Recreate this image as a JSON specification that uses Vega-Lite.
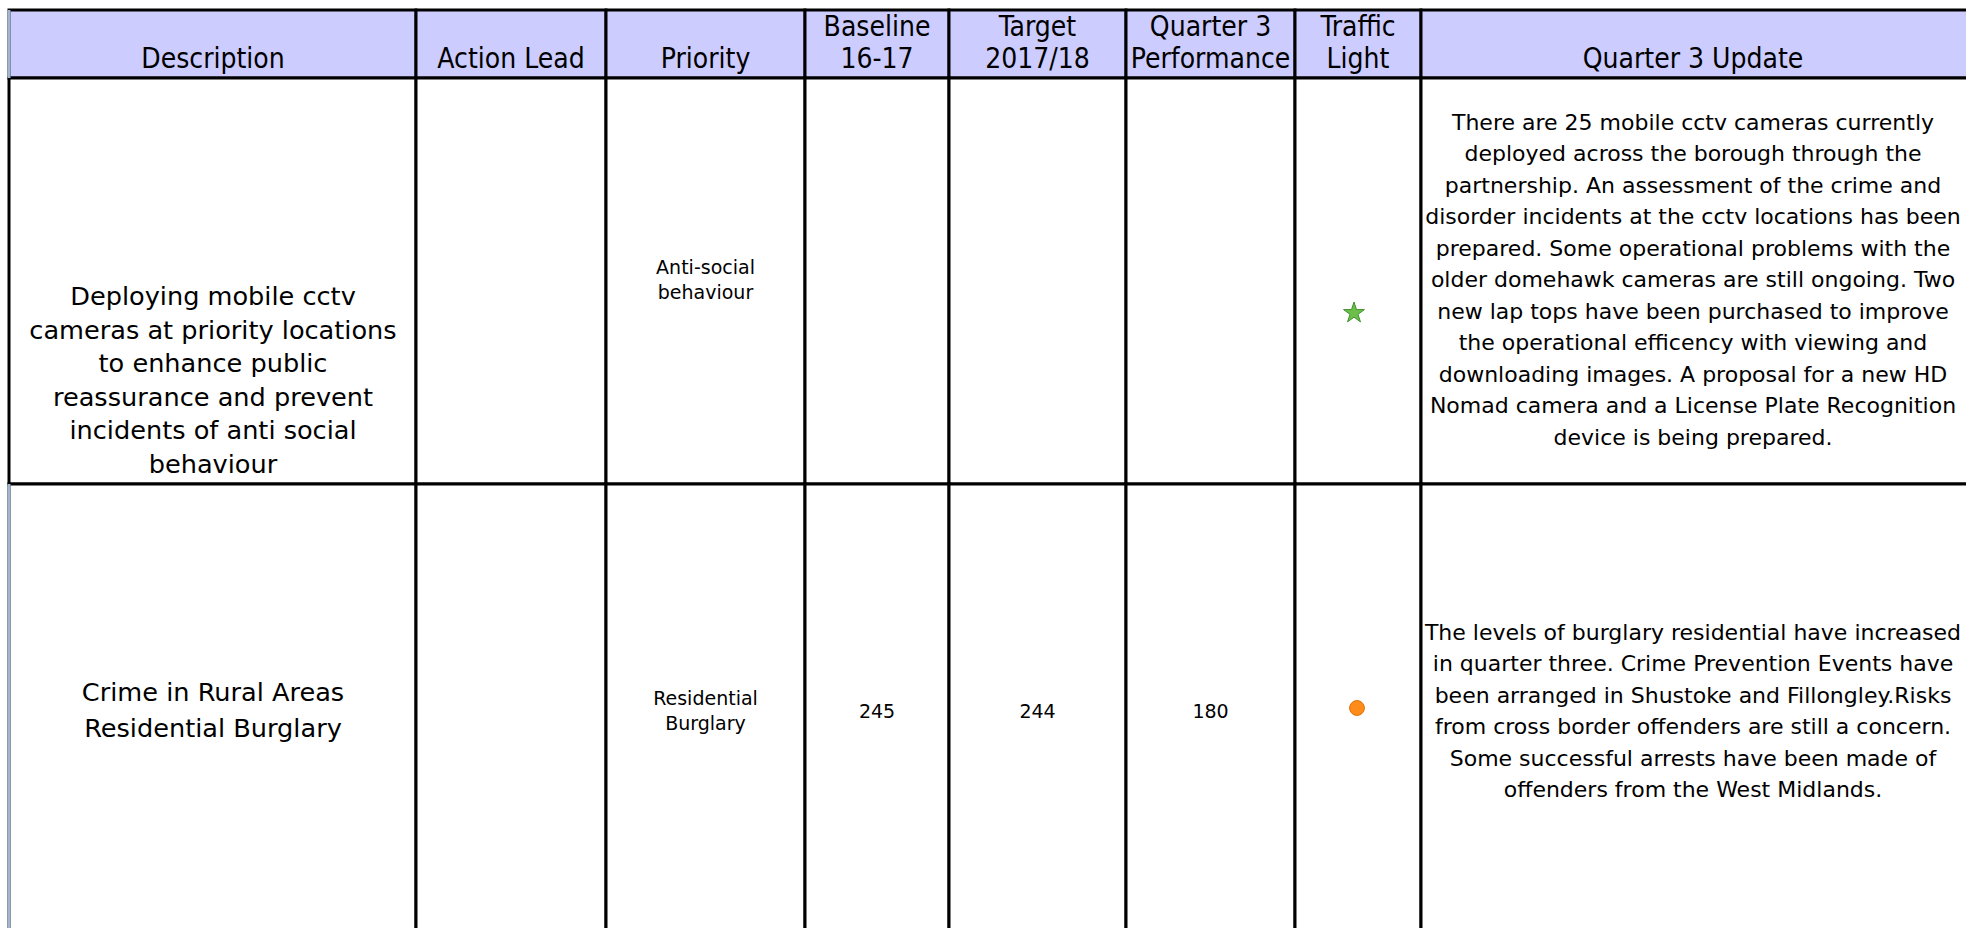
{
  "$schema": "https://vega.github.io/schema/vega-lite/v6.json",
  "width": 1966,
  "height": 928,
  "autosize": {"type": "fit", "contains": "padding"},
  "padding": 0,
  "background": "white",
  "config": {"view": {"stroke": null}},
  "datasets": {
    "columns": [
      {"col": "Description", "left": 9, "right": 416, "center": 213},
      {"col": "Action Lead", "left": 416, "right": 606, "center": 511},
      {"col": "Priority", "left": 606, "right": 805, "center": 705.5},
      {"col": "Baseline", "left": 805, "right": 949, "center": 877},
      {"col": "Target", "left": 949, "right": 1126, "center": 1037.5},
      {"col": "Performance", "left": 1126, "right": 1295, "center": 1210.5},
      {"col": "Traffic Light", "left": 1295, "right": 1421, "center": 1358},
      {"col": "Update", "left": 1421, "right": 1980, "center": 1693}
    ],
    "bands": [
      {"band": "header", "top": 10, "bottom": 78, "middle": 44},
      {"band": "cctv", "top": 78, "bottom": 484, "middle": 281},
      {"band": "burglary", "top": 484, "bottom": 940, "middle": 712}
    ]
  },
  "data": {
    "values": [
      {"band": "header", "col": "Description", "text": "Description"},
      {"band": "header", "col": "Action Lead", "text": "Action Lead"},
      {"band": "header", "col": "Priority", "text": "Priority"},
      {"band": "header", "col": "Baseline", "text": "Baseline\n16-17"},
      {"band": "header", "col": "Target", "text": "Target\n2017/18"},
      {"band": "header", "col": "Performance", "text": "Quarter 3\nPerformance"},
      {"band": "header", "col": "Traffic Light", "text": "Traffic\nLight"},
      {"band": "header", "col": "Update", "text": "Quarter 3 Update"},
      {"band": "cctv", "col": "Description", "text": "Deploying mobile cctv\ncameras at priority locations\nto enhance public\nreassurance and prevent\nincidents of anti social\nbehaviour"},
      {"band": "cctv", "col": "Action Lead", "text": ""},
      {"band": "cctv", "col": "Priority", "text": "Anti-social\nbehaviour"},
      {"band": "cctv", "col": "Baseline", "text": ""},
      {"band": "cctv", "col": "Target", "text": ""},
      {"band": "cctv", "col": "Performance", "text": ""},
      {"band": "cctv", "col": "Traffic Light", "text": "", "light": "Green"},
      {"band": "cctv", "col": "Update", "text": "There are 25 mobile cctv cameras currently\ndeployed across the borough through the\npartnership. An assessment of the crime and\ndisorder incidents at the cctv locations has been\nprepared. Some operational problems with the\nolder domehawk cameras are still ongoing.  Two\nnew lap tops have been purchased to improve\nthe operational efficency with viewing and\ndownloading images. A proposal for a new HD\nNomad camera and a License Plate Recognition\ndevice is being prepared."},
      {"band": "burglary", "col": "Description", "text": "Crime in Rural Areas\nResidential Burglary"},
      {"band": "burglary", "col": "Action Lead", "text": ""},
      {"band": "burglary", "col": "Priority", "text": "Residential\nBurglary"},
      {"band": "burglary", "col": "Baseline", "text": "245"},
      {"band": "burglary", "col": "Target", "text": "244"},
      {"band": "burglary", "col": "Performance", "text": "180"},
      {"band": "burglary", "col": "Traffic Light", "text": "", "light": "Amber"},
      {"band": "burglary", "col": "Update", "text": "The levels of burglary residential have increased\nin quarter three. Crime Prevention Events have\nbeen arranged in Shustoke and Fillongley.Risks\nfrom cross border offenders are still a concern.\nSome successful arrests have been made of\noffenders from the West Midlands."}
    ]
  },
  "transform": [
    {"lookup": "col", "from": {"data": {"name": "columns"}, "key": "col", "fields": ["left", "right", "center"]}},
    {"lookup": "band", "from": {"data": {"name": "bands"}, "key": "band", "fields": ["top", "bottom", "middle"]}},
    {"calculate": "length(split(datum.text, '\\n'))", "as": "nl"}
  ],
  "layer": [
    {
      "mark": {"type": "rect", "stroke": "#000000", "strokeWidth": 3, "clip": true},
      "encoding": {
        "x": {"field": "left", "type": "quantitative", "axis": null, "scale": {"domain": [0, 1966], "nice": false, "zero": false}},
        "x2": {"field": "right"},
        "y": {"field": "top", "type": "quantitative", "axis": null, "scale": {"domain": [0, 928], "nice": false, "zero": false, "reverse": true}},
        "y2": {"field": "bottom"},
        "color": {"field": "band", "type": "nominal", "legend": null, "scale": {"domain": ["header", "cctv", "burglary"], "range": ["#ccccff", "#ffffff", "#ffffff"]}}
      }
    },
    {
      "transform": [{"filter": "datum.col === 'Description' && datum.band !== 'cctv'"}],
      "mark": {"type": "rule", "color": "#a3b6cf", "strokeWidth": 3, "clip": true},
      "encoding": {
        "x": {"field": "left", "type": "quantitative", "axis": null, "scale": {"domain": [0, 1966], "nice": false, "zero": false}},
        "y": {"field": "top", "type": "quantitative", "axis": null, "scale": {"domain": [0, 928], "nice": false, "zero": false, "reverse": true}},
        "y2": {"field": "bottom"}
      }
    },
    {
      "transform": [{"filter": "datum.band === 'header'"}, {"calculate": "datum.bottom - datum.nl * 32 - 2", "as": "ytop"}],
      "mark": {"type": "text", "font": "DejaVu Sans Condensed, Liberation Sans Narrow, Liberation Sans, sans-serif", "fontSize": 28, "lineHeight": 32, "lineBreak": "\n", "baseline": "line-top", "align": "center", "color": "#000000"},
      "encoding": {
        "x": {"field": "center", "type": "quantitative", "axis": null, "scale": {"domain": [0, 1966], "nice": false, "zero": false}},
        "y": {"field": "ytop", "type": "quantitative", "axis": null, "scale": {"domain": [0, 928], "nice": false, "zero": false, "reverse": true}},
        "text": {"field": "text", "type": "nominal"}
      }
    },
    {
      "transform": [{"filter": "datum.band === 'cctv' && datum.col === 'Description'"}, {"calculate": "datum.bottom - datum.nl * 33.5 - 2", "as": "ytop"}],
      "mark": {"type": "text", "font": "DejaVu Sans", "fontSize": 25.6, "lineHeight": 33.5, "lineBreak": "\n", "baseline": "line-top", "align": "center", "color": "#000000"},
      "encoding": {
        "x": {"field": "center", "type": "quantitative", "axis": null, "scale": {"domain": [0, 1966], "nice": false, "zero": false}},
        "y": {"field": "ytop", "type": "quantitative", "axis": null, "scale": {"domain": [0, 928], "nice": false, "zero": false, "reverse": true}},
        "text": {"field": "text", "type": "nominal"}
      }
    },
    {
      "transform": [{"filter": "datum.band === 'burglary' && datum.col === 'Description'"}, {"calculate": "datum.middle - datum.nl * 36 / 2", "as": "ytop"}],
      "mark": {"type": "text", "font": "DejaVu Sans", "fontSize": 25.6, "lineHeight": 36, "lineBreak": "\n", "baseline": "line-top", "align": "center", "color": "#000000"},
      "encoding": {
        "x": {"field": "center", "type": "quantitative", "axis": null, "scale": {"domain": [0, 1966], "nice": false, "zero": false}},
        "y": {"field": "ytop", "type": "quantitative", "axis": null, "scale": {"domain": [0, 928], "nice": false, "zero": false, "reverse": true}},
        "text": {"field": "text", "type": "nominal"}
      }
    },
    {
      "transform": [{"filter": "datum.band !== 'header' && datum.col === 'Update'"}, {"calculate": "datum.middle - datum.nl * 31.5 / 2", "as": "ytop"}],
      "mark": {"type": "text", "font": "DejaVu Sans", "fontSize": 22, "lineHeight": 31.5, "lineBreak": "\n", "baseline": "line-top", "align": "center", "color": "#000000"},
      "encoding": {
        "x": {"field": "center", "type": "quantitative", "axis": null, "scale": {"domain": [0, 1966], "nice": false, "zero": false}},
        "y": {"field": "ytop", "type": "quantitative", "axis": null, "scale": {"domain": [0, 928], "nice": false, "zero": false, "reverse": true}},
        "text": {"field": "text", "type": "nominal"}
      }
    },
    {
      "transform": [{"filter": "datum.band !== 'header' && datum.col !== 'Update' && datum.col !== 'Description'"}, {"calculate": "datum.middle - datum.nl * 25 / 2", "as": "ytop"}],
      "mark": {"type": "text", "font": "DejaVu Sans", "fontSize": 19, "lineHeight": 25, "lineBreak": "\n", "baseline": "line-top", "align": "center", "color": "#000000"},
      "encoding": {
        "x": {"field": "center", "type": "quantitative", "axis": null, "scale": {"domain": [0, 1966], "nice": false, "zero": false}},
        "y": {"field": "ytop", "type": "quantitative", "axis": null, "scale": {"domain": [0, 928], "nice": false, "zero": false, "reverse": true}},
        "text": {"field": "text", "type": "nominal"}
      }
    },
    {
      "transform": [{"filter": "datum.light === 'Green'"}],
      "mark": {"type": "point", "filled": true, "shape": "M0,-1L0.2245,-0.309L0.951,-0.309L0.363,0.118L0.588,0.809L0,0.382L-0.588,0.809L-0.363,0.118L-0.951,-0.309L-0.2245,-0.309Z", "size": 480, "color": "#6cc04a", "stroke": "#3f8f2c", "strokeWidth": 1, "opacity": 1, "xOffset": -4, "yOffset": 32},
      "encoding": {
        "x": {"field": "center", "type": "quantitative", "axis": null, "scale": {"domain": [0, 1966], "nice": false, "zero": false}},
        "y": {"field": "middle", "type": "quantitative", "axis": null, "scale": {"domain": [0, 928], "nice": false, "zero": false, "reverse": true}}
      }
    },
    {
      "transform": [{"filter": "datum.light === 'Amber'"}],
      "mark": {"type": "point", "filled": true, "shape": "circle", "size": 220, "color": "#ff8c1a", "stroke": "#e07000", "strokeWidth": 1, "opacity": 1, "xOffset": -1, "yOffset": -4},
      "encoding": {
        "x": {"field": "center", "type": "quantitative", "axis": null, "scale": {"domain": [0, 1966], "nice": false, "zero": false}},
        "y": {"field": "middle", "type": "quantitative", "axis": null, "scale": {"domain": [0, 928], "nice": false, "zero": false, "reverse": true}}
      }
    }
  ]
}
